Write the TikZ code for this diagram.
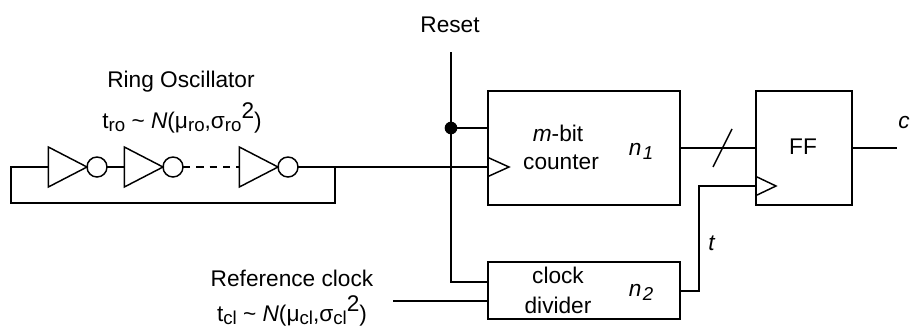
\documentclass[tikz,border=0pt]{standalone}
\usepackage{fontspec}
\setmainfont{Liberation Sans}
\usetikzlibrary{shapes.geometric}
\newcommand{\sbs}[1]{\raisebox{-0.17em}{\fontsize{14}{14}\selectfont #1}}
\newcommand{\sps}[1]{\raisebox{0.44em}{#1}}
\tikzset{
  x=0.75pt, y=-0.75pt,
  wire/.style={line width=1.4pt, line join=miter},
  thin wire/.style={line width=1.1pt},
  block/.style={draw, line width=1.4pt, rectangle, inner sep=0pt, outer sep=0pt, minimum width=144pt},
  inv/.style={draw, line width=1.1pt, isosceles triangle, isosceles triangle stretches, inner sep=0pt, outer sep=0pt, minimum height=29pt, minimum width=30pt, anchor=apex},
  bubble/.style={draw, line width=1.1pt, circle, inner sep=0pt, outer sep=0pt, minimum size=15pt},
  clk/.style={line width=1.1pt, line join=miter},
  txt/.style={font=\fontsize{17}{19}\selectfont, inner sep=0pt, anchor=base},
  dotnode/.style={circle, fill=black, inner sep=0pt, outer sep=0pt, minimum size=9.5pt},
}
\begin{document}
\begin{tikzpicture}
\useasboundingbox (0,0) rectangle (923,329);
% blocks
\node[block, minimum height=86pt] (cnt) at (584,148) {};
\node[block, minimum width=72pt, minimum height=86pt] (ff) at (804,148) {};
\node[block, minimum height=43pt] (div) at (584,290.5) {};
% inverters
\node[inv] (i1) at (87,167) {};
\node[bubble] (b1) at (97,167) {};
\node[inv] (i2) at (163,167) {};
\node[bubble] (b2) at (173,167) {};
\node[inv] (i3) at (278,167) {};
\node[bubble] (b3) at (288,167) {};
% free ends and junctions
\coordinate (ckc) at (488,167);
\coordinate (ckf) at (756,186);
\coordinate (resettop) at (451,52);
\coordinate (refin) at (393,301);
\coordinate (outc) at (897,148);
\coordinate (fbl) at (11,167);
\coordinate (fbr) at (335,167);
\node[dotnode] (rdot) at (451,128) {};
% ring wires
\draw[wire] (i1.west |- fbl) -- (fbl) -- (11,203) -- (335,203) -- (fbr);
\draw[wire] (b1.east) -- (i2.west |- b1.east);
\draw[wire, dash pattern=on 5.5pt off 4.5pt] (b2.east) -- (i3.west |- b2.east);
\draw[wire] (b3.east) -- (ckc);
% reset
\draw[wire] (resettop) -- (rdot.center) -- (451,282) -- (div.west |- 451,282);
\draw[wire] (rdot.center) -- (cnt.west |- rdot.center);
% reference and connections
\draw[wire] (refin) -- (div.west |- refin);
\draw[wire] (cnt.east |- 0,148) -- (ff.west |- 0,148);
\draw[wire] (div.east |- 0,291) -- (699,291) -- (699,186) -- (ckf);
\draw[wire] (ff.east |- outc) -- (outc);
\draw[thin wire] (713,167) -- (732,129);
% clock triangles
\draw[clk] (ckc) ++(0,-9.5) -- ++(21,9.5) -- ++(-21,9.5);
\draw[clk] (ckf) ++(0,-9.5) -- ++(20,9.5) -- ++(-20,9.5);
% labels
\node[txt] (lreset) at (450,32) {Reset};
\node[txt] (lring) at (181,87) {Ring Oscillator};
\node[txt] (ltro) at (182,128) {t\sbs{ro} \textasciitilde{} \textit{N}(μ\sbs{ro},σ\sbs{ro}\sps{2})};
\node[txt] (lref) at (292,286) {Reference clock};
\node[txt] (ltcl) at (292,321) {t\sbs{cl} \textasciitilde{} \textit{N}(μ\sbs{cl},σ\sbs{cl}\sps{2})};
\node[txt] (lm) at (558,141) {\textit{m}-bit};
\node[txt] (lcounter) at (561,169) {counter};
\node[txt] (ln1) at (641,155) {\textit{n\kern1pt\raisebox{-0.22em}{\fontsize{14}{14}\selectfont 1}}};
\node[txt] (lff) at (803,154) {FF};
\node[txt] (lc) at (904,128) {\textit{c}};
\node[txt] (lt) at (712,250) {\textit{t}};
\node[txt] (lclock) at (558,283) {clock};
\node[txt] (ldiv) at (558,313) {divider};
\node[txt] (ln2) at (641,296) {\textit{n\kern1pt\raisebox{-0.22em}{\fontsize{14}{14}\selectfont 2}}};
\end{tikzpicture}
\end{document}
